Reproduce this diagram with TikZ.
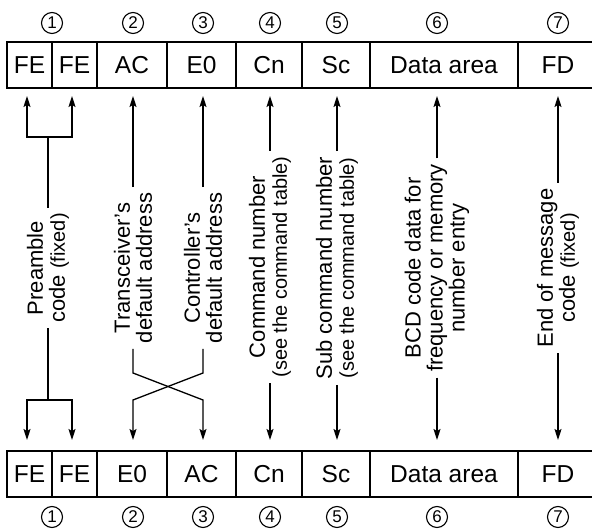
\documentclass[tikz,border=0pt]{standalone}
\usepackage{fontspec}
\setmainfont{Liberation Sans}
\usetikzlibrary{positioning, arrows.meta}
\newcommand{\smallnote}[1]{{\fontsize{20}{20}\selectfont #1}}

\begin{document}
\begin{tikzpicture}[x=1pt, y=-1pt, line width=1.3pt,
    >={Stealth[length=11pt, width=7pt, inset=2pt]},
    field/.style={draw, line width=1.6pt, minimum height=46pt, inner sep=0pt, outer sep=0pt, font=\fontsize{24.5}{28}\selectfont},
    note/.style={rotate=90, align=center, inner xsep=5pt, inner ysep=0pt, font=\fontsize{22}{22}\selectfont},
    num/.style={circle, draw, line width=1.1pt, minimum size=21pt, inner sep=0pt, font=\fontsize{17}{17}\selectfont}]
        \useasboundingbox (0,0) rectangle (592,529);

        % frame sent by the controller
        \node [field, minimum width=45pt, anchor=north west] (TA) at (7,42) {FE};
        \node [field, minimum width=45pt, right=0pt of TA] (TB) {FE};
        \node [field, minimum width=70pt, right=0pt of TB] (TC) {AC};
        \node [field, minimum width=69pt, right=0pt of TC] (TD) {E0};
        \node [field, minimum width=66pt, right=0pt of TD] (TE) {Cn};
        \node [field, minimum width=68pt, right=0pt of TE] (TF) {Sc};
        \node [field, minimum width=148pt, right=0pt of TF] (TG) {Data area};
        \node [field, minimum width=80pt, right=0pt of TG] (TH) {FD};

        % frame sent back by the transceiver
        \node [field, minimum width=45pt, anchor=north west] (BA) at (7,451) {FE};
        \node [field, minimum width=45pt, right=0pt of BA] (BB) {FE};
        \node [field, minimum width=70pt, right=0pt of BB] (BC) {E0};
        \node [field, minimum width=69pt, right=0pt of BC] (BD) {AC};
        \node [field, minimum width=66pt, right=0pt of BD] (BE) {Cn};
        \node [field, minimum width=68pt, right=0pt of BE] (BF) {Sc};
        \node [field, minimum width=148pt, right=0pt of BF] (BG) {Data area};
        \node [field, minimum width=80pt, right=0pt of BG] (BH) {FD};

        % circled numbers
        \node [num] (N1) at (52,23) {1}; \node [num] (M1) at (52,517) {1};
        \node [num] (N2) at (133,23) {2}; \node [num] (M2) at (133,517) {2};
        \node [num] (N3) at (203,23) {3}; \node [num] (M3) at (203,517) {3};
        \node [num] (N4) at (270,23) {4}; \node [num] (M4) at (270,517) {4};
        \node [num] (N5) at (337,23) {5}; \node [num] (M5) at (337,517) {5};
        \node [num] (N6) at (437,23) {6}; \node [num] (M6) at (437,517) {6};
        \node [num] (N7) at (558,23) {7}; \node [num] (M7) at (558,517) {7};

        % vertical notes
        \node [note] (L1) at (48,268) {Preamble\\code \smallnote{(fixed)}};
        \node [note] (L2) at (133,268) {Transceiver’s\\default address};
        \node [note] (L3) at (203,268) {Controller’s\\default address};
        \node [note] (L4) at (270,267) {Command number\\\smallnote{(see the command table)}};
        \node [note] (L5) at (337,268) {Sub command number\\\smallnote{(see the command table)}};
        \node [note] (L6) at (437,268) {BCD code data for\\frequency or memory\\number entry};
        \node [note] (L7) at (558,268) {End of message\\code \smallnote{(fixed)}};

        % preamble brackets
        \coordinate (PTL) at (27,137); \coordinate (PTR) at (72,137);
        \coordinate (PBL) at (27,400); \coordinate (PBR) at (72,400);
        \draw [<->, shorten <=8pt, shorten >=8pt] (TA.south -| PTL) -- (PTL) -- (PTR) -- (TB.south -| PTR);
        \draw (L1.east) -- (L1.east |- PTL);
        \draw [<->, shorten <=11pt, shorten >=11pt] (BA.north -| PBL) -- (PBL) -- (PBR) -- (BB.north -| PBR);
        \draw (L1.west) -- (L1.west |- PBL);

        % addresses swap places
        \coordinate (XA) at (133,373); \coordinate (XB) at (203,373);
        \coordinate (XC) at (133,400); \coordinate (XD) at (203,400);
        \draw [->, shorten >=8pt] (L2.east) -- (L2.east |- TC.south);
        \draw [->, shorten >=8pt] (L3.east) -- (L3.east |- TD.south);
        \draw [->, shorten >=11pt] (L2.west) -- (XA) -- (XD) -- (BD.north -| XD);
        \draw [->, shorten >=11pt] (L3.west) -- (XB) -- (XC) -- (BC.north -| XC);

        % straight columns
        \draw [->, shorten >=8pt] (L4.east) -- (L4.east |- TE.south);
        \draw [->, shorten >=11pt] (L4.west) -- (L4.west |- BE.north);
        \draw [->, shorten >=8pt] (L5.east) -- (L5.east |- TF.south);
        \draw [->, shorten >=11pt] (L5.west) -- (L5.west |- BF.north);
        \draw [->, shorten >=8pt] (L6.east) -- (L6.east |- TG.south);
        \draw [->, shorten >=11pt] (L6.west) -- (L6.west |- BG.north);
        \draw [->, shorten >=8pt] (L7.east) -- (L7.east |- TH.south);
        \draw [->, shorten >=11pt] (L7.west) -- (L7.west |- BH.north);
\end{tikzpicture}
\end{document}
